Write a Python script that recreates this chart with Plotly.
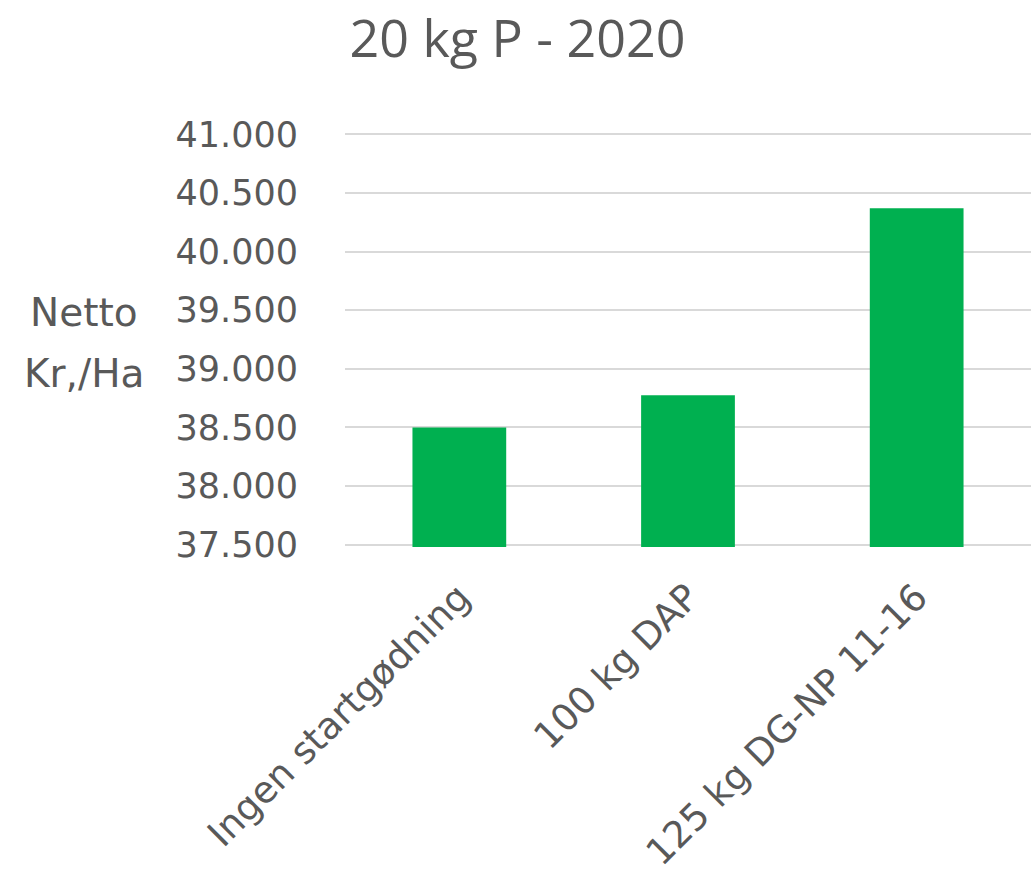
import plotly.graph_objects as go

categories = ["Ingen startgødning", "100 kg DAP", "125 kg DG-NP 11-16"]
values = [38500, 38775, 40370]
y_ticks = [37500, 38000, 38500, 39000, 39500, 40000, 40500, 41000]

tick_family = "DejaVu Sans, Verdana, sans-serif"
title_family = "Open Sans, sans-serif"
grey = "#595959"

fig = go.Figure()
fig.add_trace(go.Bar(x=categories, y=values, marker=dict(color="#00b050", line=dict(width=0)), width=0.41))

fig.update_layout(
    width=1031, height=873,
    margin=dict(l=345, r=0, t=132, b=326),
    paper_bgcolor="white", plot_bgcolor="white",
    separators=",.",
    showlegend=False,
    title=dict(text="20 kg P - 2020", x=0.502, xanchor="center", xref="container", y=0.955, yanchor="middle",
               yref="container", font=dict(family=title_family, size=52, color=grey)),
    font=dict(family=tick_family, color=grey),
)
fig.update_yaxes(range=[37480, 41020], tickvals=y_ticks, tickformat=",.0f",
                 showgrid=True, gridcolor="#d9d9d9", gridwidth=2, zeroline=False,
                 showline=False, ticks="", ticklabelstandoff=46, automargin=False,
                 tickfont=dict(family=tick_family, size=35, color=grey))
fig.update_xaxes(tickangle=-45, showline=False, ticks="", showgrid=False, automargin=False,
                 ticklabelstandoff=20,
                 tickfont=dict(family=tick_family, size=37, color=grey))
fig.add_annotation(text="Netto", xref="paper", yref="paper", x=-0.38, y=0.565,
                   xanchor="center", yanchor="middle", showarrow=False,
                   font=dict(family=tick_family, size=39, color=grey))
fig.add_annotation(text="Kr,/Ha", xref="paper", yref="paper", x=-0.38, y=0.418,
                   xanchor="center", yanchor="middle", showarrow=False,
                   font=dict(family=tick_family, size=39, color=grey))

fig.write_html("out.html")
